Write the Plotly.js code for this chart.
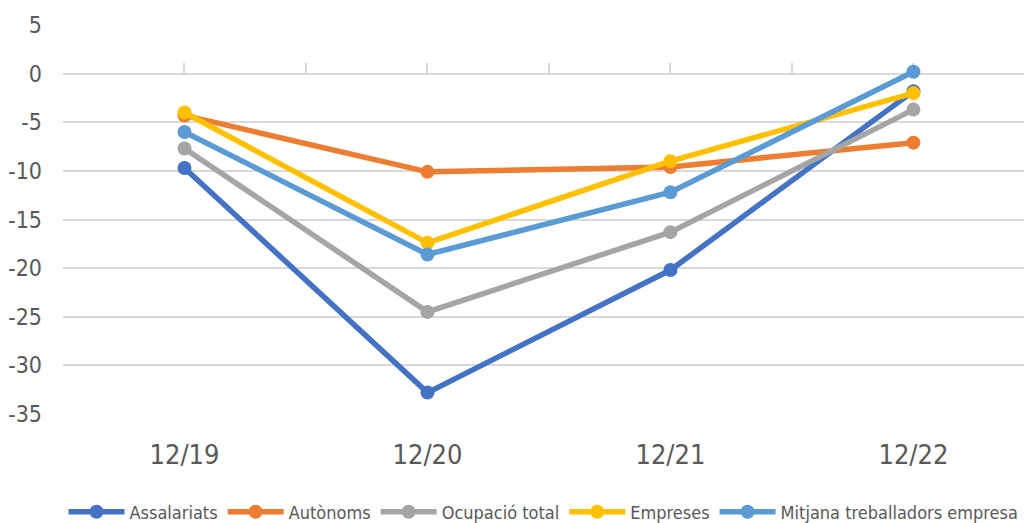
<!DOCTYPE html>
<html>
<head>
<meta charset="utf-8">
<script src="https://cdn.plot.ly/plotly-3.0.1.min.js"></script>
<style>html,body{margin:0;padding:0;background:#fff;}#chart{width:1024px;height:523px;}</style>
</head>
<body>
<div id="chart"></div>
<script>
const categories = ["12/19", "12/20", "12/21", "12/22"];
const seriesNames = ["Assalariats", "Autònoms", "Ocupació total", "Empreses", "Mitjana treballadors empresa"];
const assalariats = [-9.7, -32.8, -20.2, -1.8];
const autonoms = [-4.3, -10.1, -9.6, -7.1];
const ocupacioTotal = [-7.7, -24.5, -16.3, -3.7];
const empreses = [-4.0, -17.4, -9.0, -2.0];
const mitjana = [-6.0, -18.6, -12.2, 0.2];
const yTicks = [5, 0, -5, -10, -15, -20, -25, -30, -35];

const seriesValues = [assalariats, autonoms, ocupacioTotal, empreses, mitjana];
const colors = ["#4472C4", "#ED7D31", "#A5A5A5", "#FFC000", "#5B9BD5"];
const FONT = "'Liberation Sans Narrow', 'Arial Narrow', 'DejaVu Sans Condensed', sans-serif";

const traces = seriesValues.map((vals, i) => ({
  type: "scatter",
  mode: "lines+markers",
  name: seriesNames[i],
  x: categories,
  y: vals,
  line: {color: colors[i], width: 5.5},
  marker: {color: colors[i], size: 14},
  cliponaxis: false
}));
// invisible trace carrying the zero-line axis with its tick marks
traces.push({type: "scatter", mode: "markers", x: categories.map((c, i) => i), y: categories.map(() => null),
  xaxis: "x2", yaxis: "y", showlegend: false, hoverinfo: "skip"});

const ymin = -35, ymax = 5;
const xr = [-0.5, 3.455];
const layout = {
  width: 1024, height: 523,
  margin: {l: 63, r: 0, t: 25, b: 109, autoexpand: false},
  paper_bgcolor: "#fff", plot_bgcolor: "#fff",
  font: {family: FONT, color: "#595959"},
  showlegend: true,
  xaxis: {
    type: "category", range: xr, showgrid: false, zeroline: false, showline: false,
    ticks: "", tickfont: {size: 27, color: "#595959", family: FONT},
    ticklabelstandoff: 22, automargin: false
  },
  xaxis2: {
    type: "linear", overlaying: "x", anchor: "free", layer: "below traces",
    position: (0 - ymin) / (ymax - ymin), side: "bottom",
    range: xr, tick0: -0.5, dtick: 0.5, showgrid: false, zeroline: false, showline: true,
    linecolor: "#d9d9d9", linewidth: 2,
    ticks: "inside", ticklen: 10, tickcolor: "#d9d9d9", tickwidth: 2,
    showticklabels: false, automargin: false
  },
  yaxis: {
    range: [ymin, ymax], tickvals: yTicks, ticktext: yTicks.map(String),
    showgrid: true, gridcolor: "#d9d9d9", gridwidth: 2,
    zeroline: false, showline: false, ticks: "",
    tickfont: {size: 23, color: "#595959", family: FONT},
    ticklabelstandoff: 20, automargin: false
  },
  legend: {
    orientation: "h", x: 0.5, xanchor: "center", y: -0.252, yanchor: "middle",
    itemwidth: 56,
    font: {size: 18, color: "#595959", family: FONT}
  }
};
Plotly.newPlot("chart", traces, layout, {displayModeBar: false, staticPlot: true});
</script>
</body>
</html>
